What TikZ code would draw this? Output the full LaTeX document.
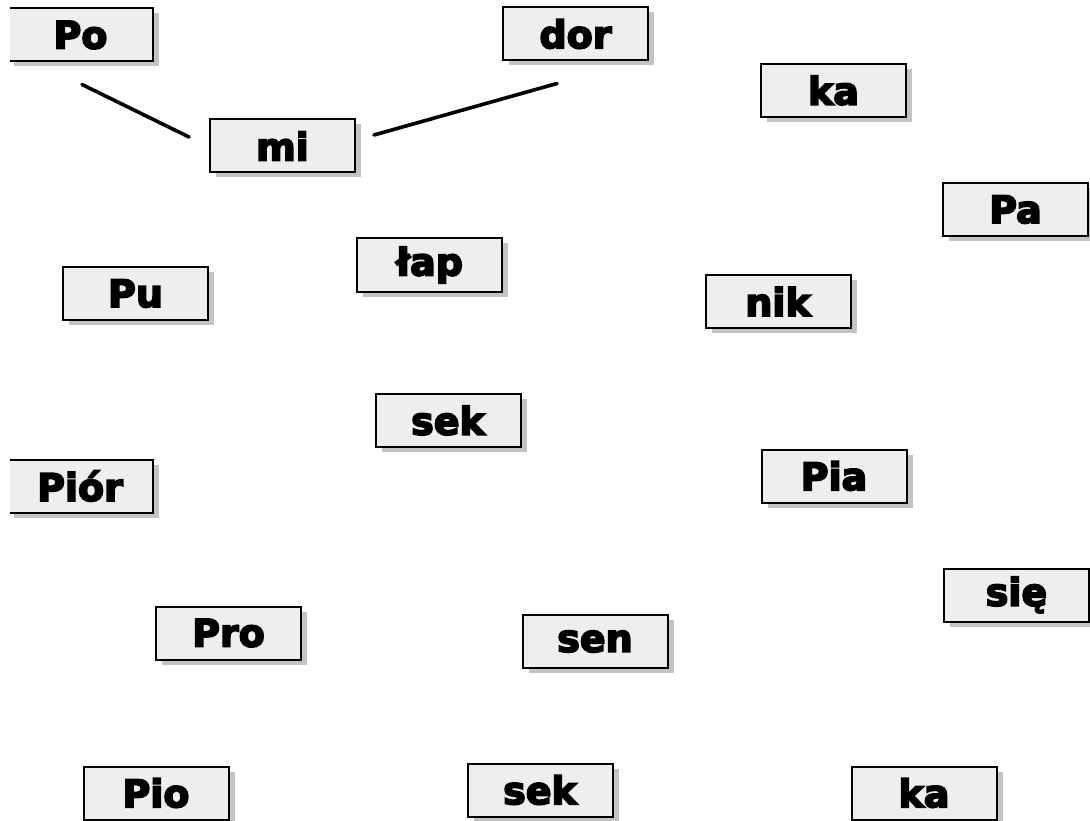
\documentclass[tikz,border=0pt]{standalone}
\usepackage{fontspec}
\setmainfont{DejaVu Sans}
\newfontfamily\sylfont[FakeBold=4.5]{DejaVu Sans Bold}
\usetikzlibrary{shadows, calc}
\definecolor{SylFill}{RGB}{238,238,238}
\definecolor{SylShade}{RGB}{175,175,175}
\tikzset{
  sylbox/.style={draw=black, line width=2pt, fill=SylFill,
    minimum width=145pt, minimum height=53pt, inner sep=0pt,
    font=\sylfont\fontsize{38}{40}\selectfont,
    drop shadow={shadow xshift=6pt, shadow yshift=-5pt, fill=SylShade, opacity=0.75}},
  joinline/.style={line width=3.6pt, line cap=round}
}
\begin{document}
\begin{tikzpicture}[x=1pt, y=-1pt]
  \useasboundingbox (0,0) rectangle (1090,821);
  \clip (10,0) rectangle (1090,821);
  \foreach \nm/\px/\py/\syl in {
    po/80.5/35/Po, dor/575.5/34/dor, kaA/833.5/90.5/ka,
    mi/282.5/146/mi, pa/1015.5/209.5/Pa, lap/429.5/265/łap,
    pu/135.5/293.5/Pu, nik/778/301.5/nik, sekA/448/420.5/sek,
    pia/834/476/Pia, pior/80/486/Piór, sie/1016.5/595/się,
    pro/228.5/633/Pro, sen/595/641.5/sen, pio/156/793/Pio,
    sekB/540/790/sek, kaB/924/793/ka
  } {
    \node[sylbox] (\nm) at (\px,\py) {\syl};
  }
  % linked syllables
  \draw[joinline] ($(po.south)+(1.5,22)$) -- ($(mi.west)+(-20,-9)$);
  \draw[joinline] ($(mi.east)+(18,-11)$) -- ($(dor.south)+(-18.5,22)$);
\end{tikzpicture}
\end{document}
